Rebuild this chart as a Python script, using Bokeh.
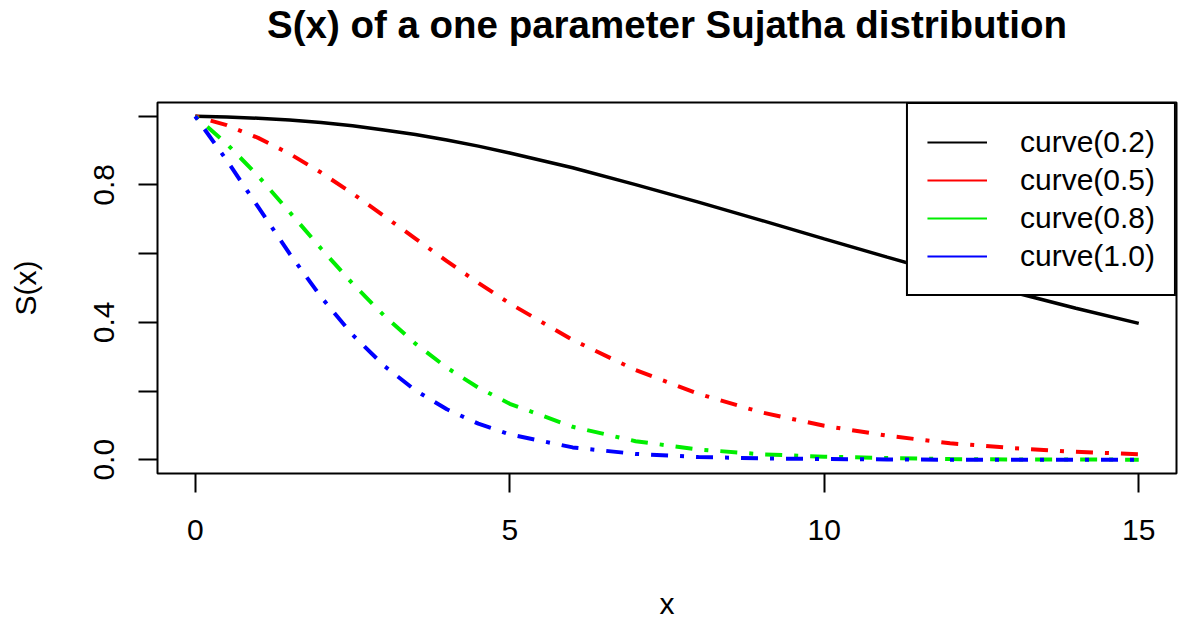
from bokeh.plotting import figure
from bokeh.models import Range1d, FixedTicker, Legend, LegendItem, Title
from bokeh.embed import file_html
from bokeh.resources import INLINE

# x grid
x_vals = [0, 0.5, 1, 1.5, 2, 2.5, 3, 3.5, 4, 4.5, 5, 6, 7, 8, 9, 10, 11, 12, 13, 14, 15]

s_02 = [1.000, 0.998, 0.994, 0.989, 0.982, 0.972, 0.960, 0.947, 0.931, 0.913, 0.893,
        0.850, 0.801, 0.750, 0.697, 0.643, 0.590, 0.538, 0.488, 0.441, 0.397]
s_05 = [1.000, 0.974, 0.937, 0.891, 0.836, 0.775, 0.710, 0.644, 0.578, 0.515, 0.455,
        0.349, 0.261, 0.192, 0.138, 0.099, 0.070, 0.048, 0.034, 0.023, 0.016]
s_08 = [1.000, 0.920, 0.826, 0.721, 0.615, 0.513, 0.420, 0.338, 0.268, 0.210, 0.163,
        0.096, 0.054, 0.030, 0.016, 0.009, 0.005, 0.002, 0.001, 0.001, 0.000]
s_10 = [1.000, 0.872, 0.736, 0.600, 0.474, 0.364, 0.274, 0.202, 0.147, 0.105, 0.074,
        0.036, 0.017, 0.008, 0.004, 0.002, 0.001, 0.000, 0.000, 0.000, 0.000]

series = [s_02, s_05, s_08, s_10]
labels = ["curve(0.2)", "curve(0.5)", "curve(0.8)", "curve(1.0)"]
colors = ["black", "red", "#00ee00", "blue"]

x_ticks = [0, 5, 10, 15]
y_ticks = [0.0, 0.2, 0.4, 0.6, 0.8, 1.0]
y_tick_labels = ["0.0", "", "0.4", "", "0.8", ""]

TITLE = "S(x) of a one parameter Sujatha distribution"
FONT = "Liberation Sans"

p = figure(width=1178, height=623, output_backend="svg", toolbar_location=None,
           x_range=Range1d(-0.6, 15.6), y_range=Range1d(-0.04, 1.04),
           min_border_left=157, min_border_right=2, min_border_top=101,
           min_border_bottom=150)
p.title = None
# blank spacer between the box and the title (R leaves a wide gap there)
spacer = Title(text=" ", text_font_size="10px", standoff=44)
p.add_layout(spacer, "above")
t = Title(text=TITLE, align="center",
          text_font=FONT, text_font_size="38.5px", text_font_style="bold",
          text_color="black", offset=0, standoff=0)
p.add_layout(t, "above")

p.background_fill_color = "white"
p.border_fill_color = "white"
p.outline_line_color = "black"
p.outline_line_width = 2
p.xgrid.visible = False
p.ygrid.visible = False

for ax in (p.xaxis[0], p.yaxis[0]):
    ax.axis_line_color = None
    ax.major_tick_in = 0
    ax.major_tick_out = 19
    ax.major_tick_line_width = 2
    ax.major_tick_line_color = "black"
    ax.minor_tick_line_color = None
    ax.major_label_text_font = FONT
    ax.major_label_text_font_size = "30px"
    ax.major_label_text_color = "black"
    ax.axis_label_text_font = FONT
    ax.axis_label_text_font_size = "30px"
    ax.axis_label_text_font_style = "normal"
    ax.axis_label_text_color = "black"

p.xaxis.ticker = FixedTicker(ticks=x_ticks)
p.xaxis.major_label_standoff = 27
p.xaxis.axis_label = "x"
p.xaxis.axis_label_standoff = 44

p.yaxis.ticker = FixedTicker(ticks=y_ticks)
p.yaxis.major_label_overrides = {v: s for v, s in zip(y_ticks, y_tick_labels)}
p.yaxis.major_label_orientation = "vertical"
p.yaxis.major_label_standoff = 24
p.yaxis.axis_label = "S(x)"
p.yaxis.axis_label_standoff = 50

nan = float("nan")
items = []
for i, (ys, lab, col) in enumerate(zip(series, labels, colors)):
    if i == 0:
        p.line(x_vals, ys, line_color=col, line_width=3.5)
    else:
        p.line(x_vals, ys, line_color=col, line_width=4, line_dash="4 12 17 12")
    dummy = p.line(x_vals[:1], [nan], line_color=col, line_width=2)
    items.append(LegendItem(label=lab, renderers=[dummy]))

legend = Legend(items=items, location="top_right", margin=0, padding=19,
                spacing=0, glyph_width=60, glyph_height=38, label_height=38,
                label_standoff=33, label_text_font=FONT, label_text_font_size="30px",
                label_text_color="black", label_text_baseline="middle",
                border_line_color="black", border_line_width=2, border_line_alpha=1.0,
                background_fill_color="white", background_fill_alpha=1.0)
p.add_layout(legend, "center")

open("out.html", "w").write(file_html(p, INLINE))
